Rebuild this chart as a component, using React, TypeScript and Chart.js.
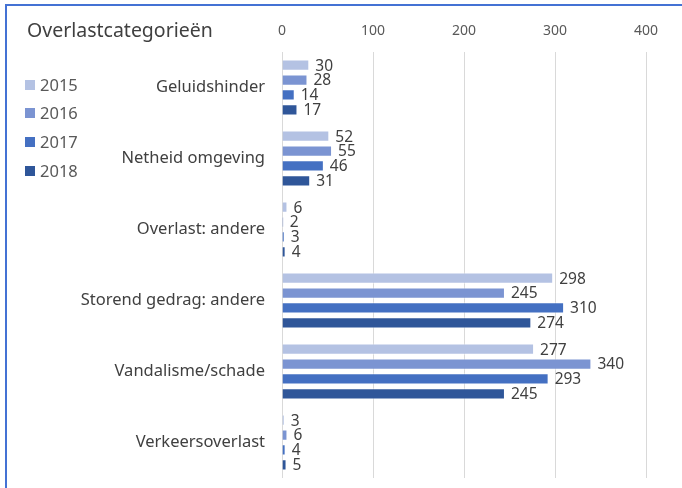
import React, { useEffect, useRef } from "react";
import { Chart, registerables } from "chart.js";

Chart.register(...registerables);

const categories = [
  "Geluidshinder",
  "Netheid omgeving",
  "Overlast: andere",
  "Storend gedrag: andere",
  "Vandalisme/schade",
  "Verkeersoverlast",
];
const years = ["2015", "2016", "2017", "2018"];
const values2015 = [30, 52, 6, 298, 277, 3];
const values2016 = [28, 55, 2, 245, 340, 6];
const values2017 = [14, 46, 3, 310, 293, 4];
const values2018 = [17, 31, 4, 274, 245, 5];
const xTicks = [0, 100, 200, 300, 400];
const colors = ["#B4C2E3", "#7B94D2", "#4470C2", "#2F5699"];

const FONT = "'Noto Sans', 'Open Sans', sans-serif";

export default function App() {
  const ref = useRef<HTMLCanvasElement | null>(null);
  useEffect(() => {
    document.body.style.margin = "0";
    const canvas = ref.current!;
    const series = [values2015, values2016, values2017, values2018];

    const decor = {
      id: "decor",
      beforeDraw(chart: any) {
        const ctx = chart.ctx;
        ctx.save();
        ctx.fillStyle = "#ffffff";
        ctx.fillRect(0, 0, chart.width, chart.height);
        ctx.strokeStyle = "#4472D4";
        ctx.lineWidth = 2;
        ctx.beginPath();
        ctx.moveTo(682, 5);
        ctx.lineTo(6, 5);
        ctx.lineTo(6, 488);
        ctx.stroke();
        // title
        ctx.fillStyle = "#404040";
        ctx.font = `19.5px ${FONT}`;
        ctx.textBaseline = "middle";
        ctx.textAlign = "left";
        ctx.fillText("Overlastcategorieën", 27, 31);
        // legend
        ctx.font = `16.5px ${FONT}`;
        const ly = [85, 113, 142, 171];
        years.forEach((y, i) => {
          ctx.fillStyle = colors[i];
          ctx.fillRect(25, ly[i] - 5, 10, 10);
          ctx.fillStyle = "#595959";
          ctx.fillText(y, 40, ly[i] + 1);
        });
        ctx.restore();
      },
      afterDatasetsDraw(chart: any) {
        const ctx = chart.ctx;
        ctx.save();
        ctx.font = `15.5px ${FONT}`;
        ctx.fillStyle = "#404040";
        ctx.textBaseline = "middle";
        ctx.textAlign = "left";
        chart.data.datasets.forEach((ds: any, di: number) => {
          const meta = chart.getDatasetMeta(di);
          meta.data.forEach((el: any, i: number) => {
            ctx.fillText(String(ds.data[i]), el.x + 6, el.y + 1);
          });
        });
        ctx.restore();
      },
    };

    const chart = new Chart(canvas, {
      type: "bar",
      data: {
        labels: categories,
        datasets: years.map((y, i) => ({
          label: y,
          data: series[i],
          backgroundColor: colors[i],
          borderColor: "rgba(255,255,255,0.6)",
          borderWidth: 1,
          categoryPercentage: 0.84,
          barPercentage: 0.76,
        })),
      },
      options: {
        indexAxis: "y",
        responsive: false,
        animation: false,
        devicePixelRatio: 1,
        layout: { padding: { left: 0, right: 36, top: 0, bottom: 10 } },
        plugins: { legend: { display: false }, tooltip: { enabled: false }, title: { display: false } },
        scales: {
          x: {
            position: "top",
            min: 0,
            max: 400,
            afterFit(scale: any) {
              scale.height = 52;
              scale.paddingLeft = 0;
              scale.paddingRight = 0;
            },
            afterBuildTicks(scale: any) {
              scale.ticks = xTicks.map((v) => ({ value: v }));
            },
            grid: { color: "#D9D9D9", drawTicks: false, lineWidth: 1 },
            border: { display: false },
            ticks: { color: "#595959", font: { family: FONT, size: 14 }, padding: 13 },
          },
          y: {
            afterFit(scale: any) {
              scale.width = 282;
              scale.paddingTop = 0;
              scale.paddingBottom = 0;
            },
            grid: { display: false, drawTicks: false },
            border: { display: false },
            ticks: { color: "#404040", font: { family: FONT, size: 16.5 }, padding: 17 },
          },
        },
      },
      plugins: [decor],
    } as any);
    return () => chart.destroy();
  }, []);
  return (
    <canvas
      ref={ref}
      width={682}
      height={488}
      style={{ position: "absolute", left: 0, top: 0, width: 682, height: 488 }}
    />
  );
}
